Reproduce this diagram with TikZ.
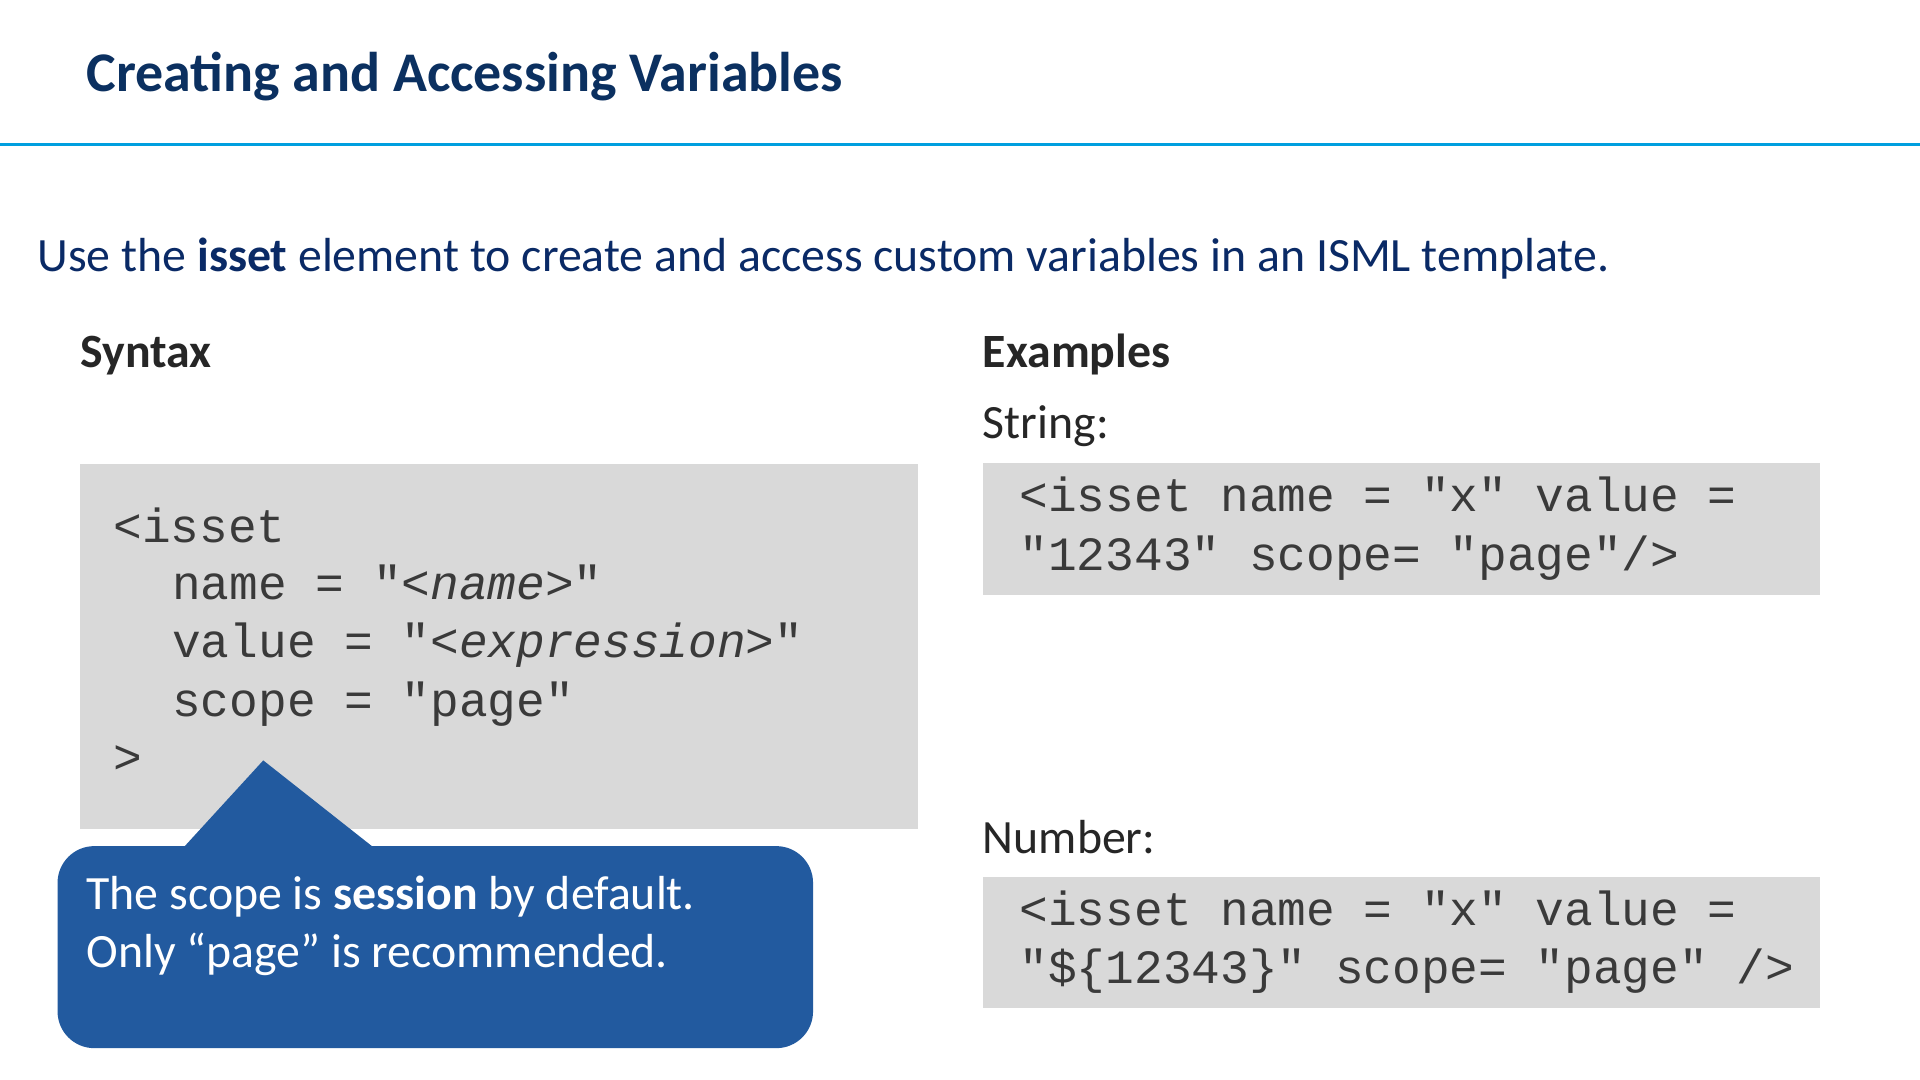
\documentclass[tikz,border=0pt]{standalone}
\usepackage{fontspec}
\setmainfont{Carlito}
\setmonofont{Liberation Mono}
\definecolor{titleblue}{HTML}{0B3060}
\definecolor{lineblue}{HTML}{009FDF}
\definecolor{navy}{HTML}{0A2A66}
\definecolor{callout}{HTML}{225A9F}
\definecolor{codegray}{HTML}{D9D9D9}
\definecolor{txt}{HTML}{262626}
\definecolor{codetxt}{HTML}{3A3A3A}
\begin{document}
\begin{tikzpicture}[x=0.01cm,y=-0.01cm,
  t/.style={anchor=base west,inner sep=0pt,font=\fontsize{11.1pt}{13pt}\selectfont,text=txt},
  code/.style={anchor=base west,inner sep=0pt,font=\fontsize{11.1pt}{13pt}\selectfont\ttfamily,text=codetxt},
  wt/.style={anchor=base west,inner sep=0pt,font=\fontsize{11.1pt}{13pt}\selectfont,text=white}]
\useasboundingbox (0,0) rectangle (1568,882);
\fill[white] (0,0) rectangle (1568,882);
\node[anchor=base west,inner sep=0pt,font=\fontsize{13pt}{15pt}\selectfont\bfseries,text=titleblue] (title) at (70,75) {Creating and Accessing Variables};
\draw[lineblue,line width=0.03cm] (0,118) -- (1568,118);
\node[t,text=navy] (intro) at (30,222) {Use the \textbf{isset} element to create and access custom variables in an ISML template.};
\node[t] (syn) at (65,300) {\textbf{Syntax}};
\node[t] (ex) at (802,300) {\textbf{Examples}};
\node[t] (str) at (802,358) {String:};
\node[t] (num) at (802,697) {Number:};
\fill[codegray] (65,379) rectangle (750,677);
\fill[codegray] (803,378) rectangle (1486,486);
\fill[codegray] (803,716) rectangle (1486,823);
\node[code] (s1) at (92,443) {<isset};
\node[code] (s2) at (140,490) {name = "<\textit{name}>"};
\node[code] (s3) at (140,537) {value = "<\textit{expression}>"};
\node[code] (s4) at (140,585) {scope = "page"};
\node[code] (s5) at (92,632) {>};
\node[code] (e1) at (832,418) {<isset name = "x" value =};
\node[code] (e2) at (832,466) {"12343" scope= "page"/>};
\node[code] (n1) at (832,756) {<isset name = "x" value =};
\node[code] (n2) at (832,803) {"\$\{12343\}" scope= "page" />};
\fill[callout,rounded corners=0.3cm] (47,691) rectangle (664,856);
\fill[callout] (150,692) -- (215,621) -- (305,692) -- cycle;
\node[wt] (c1) at (70,743) {The scope is \textbf{session} by default.};
\node[wt] (c2) at (70,790) {Only “page” is recommended.};
\end{tikzpicture}
\end{document}
